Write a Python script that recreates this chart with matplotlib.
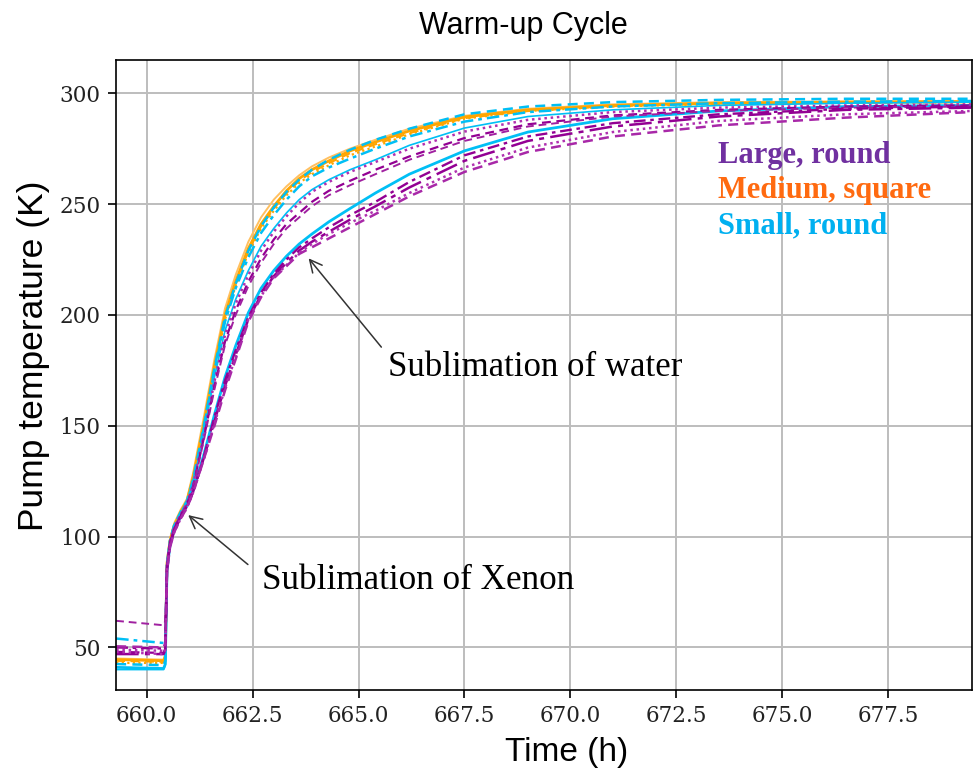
import matplotlib
matplotlib.use("Agg")
import matplotlib.pyplot as plt

# time axis (h) shared by all runs
hours = [659.28, 660.40, 660.44, 660.48, 660.55, 660.65, 660.80,
         660.95, 661.10, 661.35, 661.60, 661.85, 662.10, 662.40, 662.70,
         663.00, 663.30, 663.60, 663.90, 664.30, 664.80, 665.40, 666.20,
         667.50, 669.00, 671.00, 673.50, 676.50, 679.47]

# Medium, square (orange)
med_solid = [44.5, 44, 46, 88, 98, 105, 111,
             116, 127, 151, 177, 200, 215, 230, 241, 249, 256, 261.5, 265.5,
             269.5, 274, 278, 283, 289.3, 292.5, 294.5, 295.5, 296, 296.2]
med_light = [45, 44.5, 47, 89, 99, 106, 112,
             117, 129, 154, 180, 203, 218, 233, 244, 252, 258, 263, 267,
             271, 275, 279, 284, 289.8, 293, 295, 296, 296.3, 296.5]
med_dashed = [44, 43.5, 45.5, 87, 98, 104.5, 110.5,
              116, 126, 150, 176, 199, 214, 229, 240, 248, 255, 260.5, 264.5,
              268.5, 273, 277, 282, 288.8, 292, 294.2, 295.3, 295.8, 296]
med_dotted = [43, 43, 45, 87, 97.5, 104.5, 110.5,
              115.5, 125, 149, 175, 198, 213, 228, 239, 247, 254, 259.5, 263.5,
              267.5, 272, 276, 281.5, 288.5, 292, 294, 295.2, 295.7, 296]

# Small, round (cyan)
small_dashed = [42.5, 42, 44, 87, 98, 105, 111,
                116, 126, 150, 176, 199, 214, 229, 240, 248.5, 255.5, 261, 265.5,
                270, 274.5, 279, 284, 290.5, 294, 296, 297, 297.5, 297.5]
small_dashdot = [54, 52, 54, 88, 98, 105, 110.5,
                 115.5, 125, 149, 175, 197, 212, 226, 237, 245, 252, 258, 262.5,
                 266.5, 270.5, 275, 280.5, 287.2, 291.5, 294, 295.5, 296.2, 296.5]
small_thin = [40, 40, 42, 86, 97, 104, 110,
              115, 124, 147, 172, 193, 207, 220, 231, 239, 246, 252, 256.5,
              261, 265.5, 270, 276.5, 284.3, 289.5, 292.5, 294.5, 295.5, 296]
small_thick = [41, 40.5, 42.5, 85, 96, 103, 109,
               114, 121, 137, 155, 172, 186, 201, 212, 220, 226.5, 232, 236.5,
               242, 248, 255, 263.5, 274, 282.5, 288.5, 292, 294, 294.5]

# Large, round (purple)
large_dotted = [49, 48.5, 50, 87, 97, 104, 110,
                115, 123.5, 146, 170, 191, 205, 218, 229, 237.5, 244.5, 250.5, 255.5,
                260, 264.5, 269, 275, 282.7, 288, 291.5, 293.5, 294.5, 295]
large_dashed = [48, 47.5, 49.5, 86, 97, 103.5, 109.5,
                114.5, 123, 144.5, 168, 188, 202, 215, 225.5, 234, 241, 246, 251,
                256, 260.5, 265.5, 271.5, 279.8, 286, 290, 292.5, 294, 294.5]
large_dashed_hi = [62, 60, 62, 88, 98, 104, 109.5,
                   114.5, 122.5, 143.5, 166.5, 186.5, 200, 213, 223.5, 232, 239, 244, 249,
                   254, 258.5, 263.5, 270, 278.5, 285, 289.5, 292, 293.5, 294]
large_dashdot = [50, 49.5, 51, 86, 96.5, 103, 109,
                 113.5, 120.5, 136, 154, 170.5, 184, 199, 210, 218.5, 225, 230.5, 234.5,
                 239.5, 245, 251, 260, 272, 280.5, 286.5, 290.5, 293, 294]
large_longdash = [47, 47, 49, 85, 96, 102.5, 108.5,
                  113.5, 120.5, 135.5, 152, 168, 182, 198, 209, 217.5, 223.5, 229, 233,
                  237.5, 243, 249, 257.5, 269.5, 278.5, 285, 289.5, 292.5, 293.5]
large_dotted_lo = [48, 47, 49, 85, 95.5, 102, 108,
                   113, 120, 135, 151, 167, 181, 198, 208.5, 217, 222.5, 228, 232,
                   236.5, 241.5, 247, 255, 266.5, 275.5, 282.5, 287.5, 290.5, 292]
large_dashed_lo = [50.5, 50, 52, 84, 95, 102, 108,
                   113, 120, 135, 150, 166, 180, 197, 208, 216.5, 222, 227.5, 230.5,
                   234.5, 239.5, 245.5, 253.5, 264.5, 273.5, 280.5, 285.5, 289, 291.5]

x_ticks = [660.0, 662.5, 665.0, 667.5, 670.0, 672.5, 675.0, 677.5]
y_ticks = [50, 100, 150, 200, 250, 300]

orange = "#ffa500"
cyan = "#00bff5"
purple = "#930093"
dense_dot = (0, (1, 1.5))
dash = (0, (4, 2.5))
dashdot = (0, (5, 2, 1.5, 2))
longdash = (0, (9, 2.5, 2, 2.5))

runs = [
    (med_light, "#ffc060", "-", 1.4),
    (med_dotted, orange, dense_dot, 1.6),
    (med_dashed, orange, dash, 1.6),
    (med_solid, orange, "-", 2.0),
    (small_thin, cyan, "-", 1.2),
    (small_thick, cyan, "-", 2.0),
    (small_dashdot, cyan, dashdot, 1.8),
    (small_dashed, cyan, dash, 1.8),
    (large_dotted, "#b030b0", dense_dot, 1.8),
    (large_dashed, purple, dash, 1.6),
    (large_dashed_hi, "#a020a0", dash, 1.4),
    (large_dashdot, purple, dashdot, 1.7),
    (large_longdash, purple, longdash, 1.8),
    (large_dotted_lo, "#b030b0", dense_dot, 1.8),
    (large_dashed_lo, "#a828a8", dash, 1.8),
]

fig = plt.figure(figsize=(9.76, 7.73), dpi=100)
ax = fig.add_axes([0.119, 0.1074, 0.8766, 0.815])

for vals, col, ls, lw in runs:
    ax.plot(hours, vals, color=col, linestyle=ls, linewidth=lw)

ax.set_xlim(659.28, 679.47)
ax.set_ylim(30.8, 315.0)
ax.set_xticks(x_ticks)
ax.set_xticklabels([f"{v:.1f}" for v in x_ticks])
ax.set_yticks(y_ticks)
ax.grid(True, color="#bdbdbd", linewidth=1.4)
ax.set_axisbelow(True)
ax.tick_params(direction="out", length=6, width=1.2, pad=5, labelsize=15.5,
               labelcolor="#222222")
for lab in ax.get_xticklabels() + ax.get_yticklabels():
    lab.set_family("DejaVu Serif")
for s in ax.spines.values():
    s.set_linewidth(1.2)

ax.set_xlabel("Time (h)", fontsize=24, family="Liberation Sans")
ax.set_ylabel("Pump temperature (K)", fontsize=25.5, family="Liberation Sans")
ax.xaxis.set_label_coords(0.526, -0.074)
ax.yaxis.set_label_coords(-0.077, 0.53)
fig.text(0.536, 0.967, "Warm-up Cycle", fontsize=22, family="Liberation Sans",
         ha="center", va="center")

# legend written as coloured text
ax.text(673.48, 272.0, "Large, round", color="#7030a0", fontsize=22,
        family="Liberation Serif", weight="bold", va="center")
ax.text(673.48, 256.0, "Medium, square", color="#ff6a10", fontsize=22,
        family="Liberation Serif", weight="bold", va="center")
ax.text(673.48, 240.0, "Small, round", color="#00b0f0", fontsize=22,
        family="Liberation Serif", weight="bold", va="center")

arrow = dict(arrowstyle="->", color="#333333", lw=1.1, mutation_scale=22)
ax.annotate("", xy=(663.78, 226.5), xytext=(665.58, 184.5), arrowprops=arrow)
ax.text(665.69, 176.5, "Sublimation of water", fontsize=25,
        family="Liberation Serif", va="center")
ax.annotate("", xy=(660.93, 110.5), xytext=(662.44, 86.6), arrowprops=arrow)
ax.text(662.72, 80.0, "Sublimation of Xenon", fontsize=25.3,
        family="Liberation Serif", va="center")

fig.savefig("out.png", dpi=100)
